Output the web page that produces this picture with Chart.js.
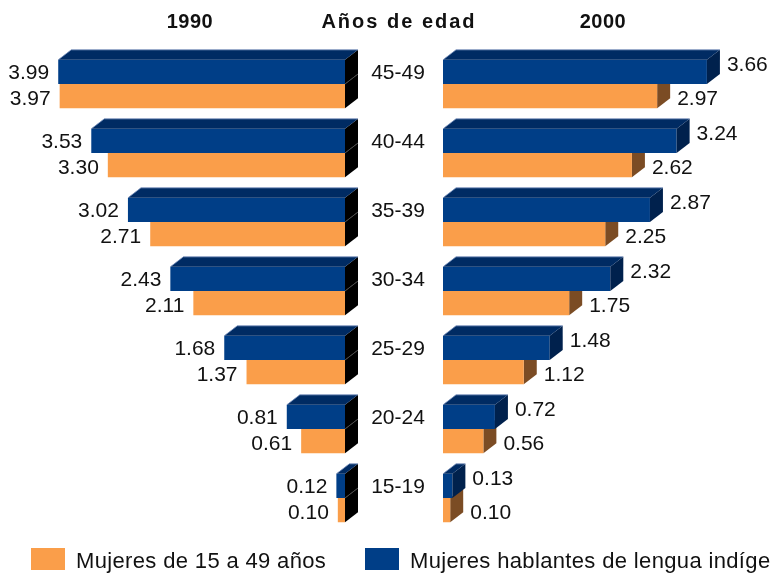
<!DOCTYPE html>
<html><head><meta charset="utf-8">
<script src="https://cdn.jsdelivr.net/npm/chart.js@4.4.0/dist/chart.umd.min.js"></script>
<style>
html,body{margin:0;padding:0;background:#fff;width:770px;height:573px;overflow:hidden;position:relative;font-family:"Liberation Sans",Arial,sans-serif;color:#111;}
#wl{position:absolute;left:0;top:0;width:443px;height:573px;}
#wr{position:absolute;left:443px;top:0;width:327px;height:573px;}
.title{position:absolute;top:11px;width:240px;text-align:center;font-weight:bold;font-size:20px;line-height:20px;white-space:nowrap;}
.sw{position:absolute;top:548px;height:22px;}
.lt{position:absolute;top:550px;font-size:22px;line-height:22px;letter-spacing:0.35px;white-space:nowrap;}
</style>
</head><body>
<div id="wl"><canvas id="cl"></canvas></div>
<div id="wr"><canvas id="cr"></canvas></div>
<div class="title" id="t1" style="left:70px;letter-spacing:0.5px;"></div>
<div class="title" id="t2" style="left:279px;letter-spacing:2px;"></div>
<div class="title" id="t3" style="left:483px;letter-spacing:0.5px;"></div>
<div id="legend"></div>
<script>
const categories = ['45-49','40-44','35-39','30-34','25-29','20-24','15-19'];
const panelTitles = ['1990','Años de edad','2000'];
const seriesNames = ['Mujeres de 15 a 49 años','Mujeres hablantes de lengua indígena'];
const mujeres1990 = [3.97,3.30,2.71,2.11,1.37,0.61,0.10];
const hablantes1990 = [3.99,3.53,3.02,2.43,1.68,0.81,0.12];
const mujeres2000 = [2.97,2.62,2.25,1.75,1.12,0.56,0.10];
const hablantes2000 = [3.66,3.24,2.87,2.32,1.48,0.72,0.13];

const ORANGE = '#FA9E4A';
const BLUE = '#003E87';
const TOP = '#002B63';
const FONT = '21px "Liberation Sans", Arial, sans-serif';
const DX = 13, DY = 10;

document.getElementById('t1').textContent = panelTitles[0];
document.getElementById('t2').textContent = panelTitles[1];
document.getElementById('t3').textContent = panelTitles[2];
const lg = document.getElementById('legend');
[[ORANGE,31,34,76],[BLUE,365,34,410]].forEach((d,i)=>{
  const s=document.createElement('div'); s.className='sw'; s.style.left=d[1]+'px'; s.style.width=d[2]+'px'; s.style.background=d[0]; lg.appendChild(s);
  const t=document.createElement('div'); t.className='lt'; t.style.left=d[3]+'px'; t.textContent=seriesNames[i]; lg.appendChild(t);
});

function geom(el){
  const p = el.getProps(['x','y','base','height'], true);
  return {l:Math.min(p.x,p.base), r:Math.max(p.x,p.base), t:p.y-p.height/2, b:p.y+p.height/2, cy:p.y};
}
function poly(ctx, pts, fill){
  ctx.beginPath(); ctx.moveTo(pts[0][0],pts[0][1]);
  for(let i=1;i<pts.length;i++) ctx.lineTo(pts[i][0],pts[i][1]);
  ctx.closePath(); ctx.fillStyle=fill; ctx.fill();
}
function drawSides(chart, opts, idx){
  const ctx=chart.ctx; const meta=chart.getDatasetMeta(idx);
  ctx.save();
  meta.data.forEach(el=>{
    const g=geom(el);
    poly(ctx,[[g.r,g.t],[g.r+DX,g.t-DY],[g.r+DX,g.b-DY],[g.r,g.b]],opts.sideColors[idx]);
    if(opts.sep && idx===0){
      ctx.beginPath(); ctx.moveTo(g.r,g.b); ctx.lineTo(g.r+DX,g.b-DY);
      ctx.strokeStyle='#4a4a4a'; ctx.lineWidth=1; ctx.stroke();
    }
  });
  ctx.restore();
}
function drawTops(chart){
  const ctx=chart.ctx; const meta=chart.getDatasetMeta(0);
  ctx.save();
  meta.data.forEach(el=>{
    const g=geom(el);
    poly(ctx,[[g.l,g.t],[g.r,g.t],[g.r+DX,g.t-DY],[g.l+DX,g.t-DY]],TOP);
    ctx.beginPath(); ctx.moveTo(g.l,g.t); ctx.lineTo(g.l+DX,g.t-DY); ctx.lineTo(g.r+DX,g.t-DY);
    ctx.strokeStyle='rgba(120,145,190,0.8)'; ctx.lineWidth=1; ctx.stroke();
  });
  ctx.restore();
}
function drawLabels(chart, opts){
  const ctx=chart.ctx;
  ctx.save(); ctx.font=FONT; ctx.fillStyle='#111'; ctx.textBaseline='middle';
  [0,1].forEach(idx=>{
    const meta=chart.getDatasetMeta(idx); const data=chart.data.datasets[idx].data;
    meta.data.forEach((el,i)=>{
      const g=geom(el); const txt=data[i].toFixed(2);
      if(opts.side==='left'){
        ctx.textAlign='right';
        ctx.fillText(txt, g.l-9, g.cy + (idx===0?1:3));
      } else {
        ctx.textAlign='left';
        ctx.fillText(txt, g.r+20, g.cy + (idx===0?-7:3));
      }
    });
  });
  if(opts.centerLabels){
    const ys=chart.scales.y;
    ctx.textAlign='center';
    chart.data.labels.forEach((lab,i)=>{
      ctx.fillText(lab, 398, ys.getPixelForValue(i)-11);
    });
  }
  ctx.restore();
}
const threeD = {
  id:'threeD',
  beforeDatasetsDraw(chart,args,opts){ drawSides(chart,opts,1); },
  afterDatasetsDraw(chart,args,opts){ drawSides(chart,opts,0); drawTops(chart); drawLabels(chart,opts); }
};

function makeChart(id, blueData, orangeData, xOpts, padding, pOpts){
  return new Chart(document.getElementById(id), {
    type:'bar',
    data:{labels:categories, datasets:[
      {label:seriesNames[1], data:blueData, backgroundColor:BLUE, borderWidth:0},
      {label:seriesNames[0], data:orangeData, backgroundColor:ORANGE, borderWidth:0}
    ]},
    options:{
      indexAxis:'y', responsive:true, maintainAspectRatio:false, animation:false, devicePixelRatio:1,
      layout:{padding:padding},
      datasets:{bar:{categoryPercentage:0.7, barPercentage:1.0}},
      scales:{x:Object.assign({display:false,min:0},xOpts), y:{display:false}},
      plugins:{legend:{display:false}, tooltip:{enabled:false}, threeD:pOpts}
    },
    plugins:[threeD]
  });
}
makeChart('cl', hablantes1990, mujeres1990, {max:4.8, reverse:true},
  {left:0,right:98,top:49.5,bottom:40.5}, {side:'left', sideColors:['#000','#000'], sep:true, centerLabels:true});
makeChart('cr', hablantes2000, mujeres2000, {max:4.535},
  {left:0,right:0,top:49.5,bottom:40.5}, {side:'right', sideColors:['#00214D','#7B4C24'], sep:false, centerLabels:false});
</script>
</body></html>
